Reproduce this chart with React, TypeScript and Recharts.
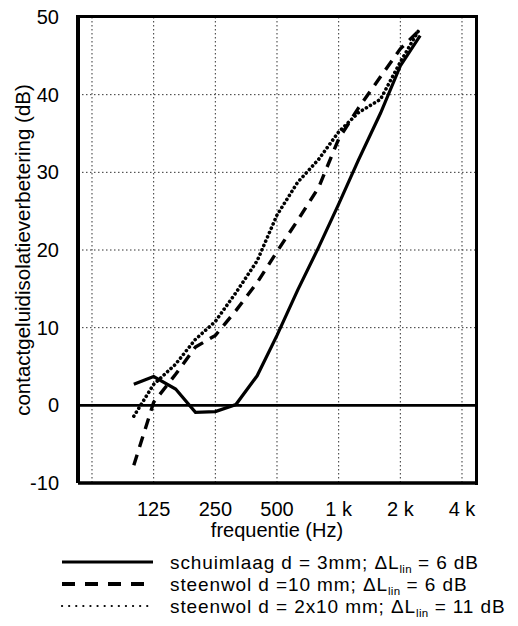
import React from 'react';
import {
  LineChart,
  Line,
  XAxis,
  YAxis,
  CartesianGrid,
  ReferenceLine,
  Legend,
} from 'recharts';

// ---- data ----
const frequencies = [100, 125, 160, 200, 250, 315, 400, 500, 630, 800, 1000, 1250, 1600, 2000, 2500];
const schuimlaag3mm = [2.7, 3.7, 2.1, -0.9, -0.8, 0.1, 3.8, 9.0, 14.8, 20.4, 25.9, 31.6, 37.6, 43.7, 47.6];
const steenwol10mm = [-7.7, 0.4, 4.0, 7.5, 9.0, 12.2, 15.8, 19.8, 23.8, 28.1, 34.3, 38.3, 42.3, 45.9, 48.4];
const steenwol2x10mm = [-1.4, 2.7, 5.3, 8.5, 10.8, 14.5, 18.6, 24.5, 28.7, 31.7, 35.2, 37.7, 39.4, 44.2, 48.6];

const octaveTicks = [62.5, 125, 250, 500, 1000, 2000, 4000];
const octaveLabels = ['', '125', '250', '500', '1 k', '2 k', '4 k'];
const thirdOctaveTicks = [63, 80, 100, 125, 160, 200, 250, 315, 400, 500, 630, 800, 1000, 1250, 1600, 2000, 2500, 3150, 4000];
const yTicks = [-10, 0, 10, 20, 30, 40, 50];
const yMinorTicks = [-10, -9, -8, -7, -6, -5, -4, -3, -2, -1, 0, 1, 2, 3, 4, 5, 6, 7, 8, 9, 10, 11, 12, 13, 14, 15, 16, 17, 18, 19, 20, 21, 22, 23, 24, 25, 26, 27, 28, 29, 30, 31, 32, 33, 34, 35, 36, 37, 38, 39, 40, 41, 42, 43, 44, 45, 46, 47, 48, 49, 50];
const xDomain = [53.4, 4682];
const yDomain = [-10, 50];

const seriesKeys = ['schuim', 'steen10', 'steen2x10'];
const seriesNames = ['schuimlaag d = 3mm; ', 'steenwol d =10 mm; ', 'steenwol d = 2x10 mm; '];
const deltaValues = ['6 dB', '6 dB', '11 dB'];
const xLabel = 'frequentie (Hz)';
const yLabel = 'contactgeluidisolatieverbetering (dB)';

const data = frequencies.map((f, i) => ({
  f,
  schuim: schuimlaag3mm[i],
  steen10: steenwol10mm[i],
  steen2x10: steenwol2x10mm[i],
}));

const FONT = '"Liberation Sans", Arial, Helvetica, sans-serif';
const CHART_W = 518;
const CHART_H = 626;
const MARGIN = { top: 17, right: 42, bottom: 83, left: 0 };
const Y_AXIS_W = 78;
const X_AXIS_H = 60;

const lineStyles = [
  { strokeWidth: 3.2, strokeDasharray: undefined as string | undefined, strokeLinecap: 'butt' as const },
  { strokeWidth: 3.4, strokeDasharray: '11 8', strokeLinecap: 'butt' as const },
  { strokeWidth: 3.6, strokeDasharray: '0.1 4.6', strokeLinecap: 'round' as const },
];
const legendStyles = [
  { strokeWidth: 3, strokeDasharray: undefined as string | undefined, strokeLinecap: 'butt' as const },
  { strokeWidth: 3.8, strokeDasharray: '13 10', strokeLinecap: 'butt' as const },
  { strokeWidth: 2.2, strokeDasharray: '0.1 7', strokeLinecap: 'round' as const },
];

const LegendBox = () => (
  <div style={{ fontFamily: FONT, fontSize: 19, letterSpacing: 0.9, color: '#000' }}>
    {seriesKeys.map((k, i) => (
      <div key={k} style={{ display: 'flex', alignItems: 'center', height: 22, whiteSpace: 'nowrap' }}>
        <svg width={100} height={22} style={{ marginLeft: 60, flex: 'none' }}>
          <line
            x1={2}
            x2={93}
            y1={11}
            y2={11}
            stroke="#000"
            strokeWidth={legendStyles[i].strokeWidth}
            strokeDasharray={legendStyles[i].strokeDasharray}
            strokeLinecap={legendStyles[i].strokeLinecap}
          />
        </svg>
        <span style={{ marginLeft: 10, lineHeight: '19px', height: 19, display: 'inline-block' }}>
          {seriesNames[i]}
          {'\u0394L'}
          <span style={{ fontSize: 11.5, position: 'relative', top: 4, letterSpacing: 0.3, lineHeight: '10px' }}>lin</span>
          {' = '}
          {deltaValues[i]}
        </span>
      </div>
    ))}
  </div>
);

export default function App() {
  const plotLeft = MARGIN.left + Y_AXIS_W;
  const plotRight = CHART_W - MARGIN.right;
  const plotTop = MARGIN.top;
  const plotBottom = CHART_H - MARGIN.bottom - X_AXIS_H;
  const frameW = 3.4;
  return (
    <div style={{ position: 'absolute', left: 0, top: 0, width: CHART_W, height: CHART_H }}>
      <LineChart width={CHART_W} height={CHART_H} data={data} margin={MARGIN}>
        <CartesianGrid
          xAxisId="x"
          yAxisId="y"
          stroke="#333"
          strokeDasharray="1.5 2.5"
          strokeWidth={1}
        />
        <XAxis
          xAxisId="minor"
          dataKey="f"
          type="number"
          scale="log"
          domain={xDomain}
          allowDataOverflow
          ticks={thirdOctaveTicks}
          interval={0}
          height={0}
          mirror
          axisLine={false}
          tickSize={5}
          tickLine={{ stroke: '#000', strokeWidth: 1.5 }}
          tickFormatter={() => ''}
        />
        <XAxis
          xAxisId="x"
          dataKey="f"
          type="number"
          scale="log"
          domain={xDomain}
          allowDataOverflow
          ticks={octaveTicks}
          interval={0}
          tickFormatter={(v: number) => octaveLabels[octaveTicks.indexOf(v)] ?? ''}
          height={X_AXIS_H}
          axisLine={{ stroke: '#000', strokeWidth: 3.4 }}
          tickLine={false}
          tickMargin={13}
          tick={{ fontSize: 20, fill: '#000', fontFamily: FONT }}
          label={{
            content: (p: any) => {
              const vb = p.viewBox || {};
              return (
                <text
                  x={(plotLeft + plotRight) / 2}
                  y={(vb.y ?? plotBottom) + 47}
                  textAnchor="middle"
                  dominantBaseline="central"
                  fontSize={20}
                  fontFamily={FONT}
                  fill="#000"
                >
                  {xLabel}
                </text>
              );
            },
          }}
        />
        <YAxis
          yAxisId="minor"
          type="number"
          domain={yDomain}
          allowDataOverflow
          ticks={yMinorTicks}
          interval={0}
          width={0}
          mirror
          axisLine={false}
          tickSize={5}
          tickLine={{ stroke: '#000', strokeWidth: 1.2 }}
          tickFormatter={() => ''}
        />
        <YAxis
          yAxisId="y"
          type="number"
          domain={yDomain}
          allowDataOverflow
          ticks={yTicks}
          interval={0}
          width={Y_AXIS_W}
          axisLine={{ stroke: '#000', strokeWidth: 4 }}
          tickLine={false}
          tickMargin={13}
          tick={{ fontSize: 20, fill: '#000', fontFamily: FONT }}
          label={{
            content: (p: any) => {
              const vb = p.viewBox || {};
              const cx = (vb.x ?? 0) + 22;
              const cy = (plotTop + plotBottom) / 2;
              return (
                <text
                  x={cx}
                  y={cy}
                  transform={`rotate(-90, ${cx}, ${cy})`}
                  textAnchor="middle"
                  dominantBaseline="central"
                  fontSize={20.5}
                  fontFamily={FONT}
                  fill="#000"
                >
                  {yLabel}
                </text>
              );
            },
          }}
        />
        <ReferenceLine xAxisId="x" yAxisId="y" y={0} stroke="#000" strokeWidth={2.6} />
        {seriesKeys.map((k, i) => (
          <Line
            key={k}
            xAxisId="x"
            yAxisId="y"
            dataKey={k}
            name={seriesNames[i]}
            type="linear"
            stroke="#000"
            strokeWidth={lineStyles[i].strokeWidth}
            strokeDasharray={lineStyles[i].strokeDasharray}
            strokeLinecap={lineStyles[i].strokeLinecap}
            dot={false}
            activeDot={false}
            isAnimationActive={false}
          />
        ))}
        <Legend
          layout="vertical"
          align="center"
          verticalAlign="middle"
          wrapperStyle={{ position: 'absolute', left: 0, top: 551, width: 518, height: 70 }}
          content={() => <LegendBox />}
        />
      </LineChart>
      <div
        style={{
          position: 'absolute',
          left: plotLeft - 2,
          top: plotTop - frameW / 2,
          width: plotRight - plotLeft + 2 + frameW / 2,
          height: plotBottom - plotTop + frameW,
          borderTop: `${frameW}px solid #000`,
          borderRight: `${frameW}px solid #000`,
          boxSizing: 'border-box',
          pointerEvents: 'none',
        }}
      />
    </div>
  );
}
